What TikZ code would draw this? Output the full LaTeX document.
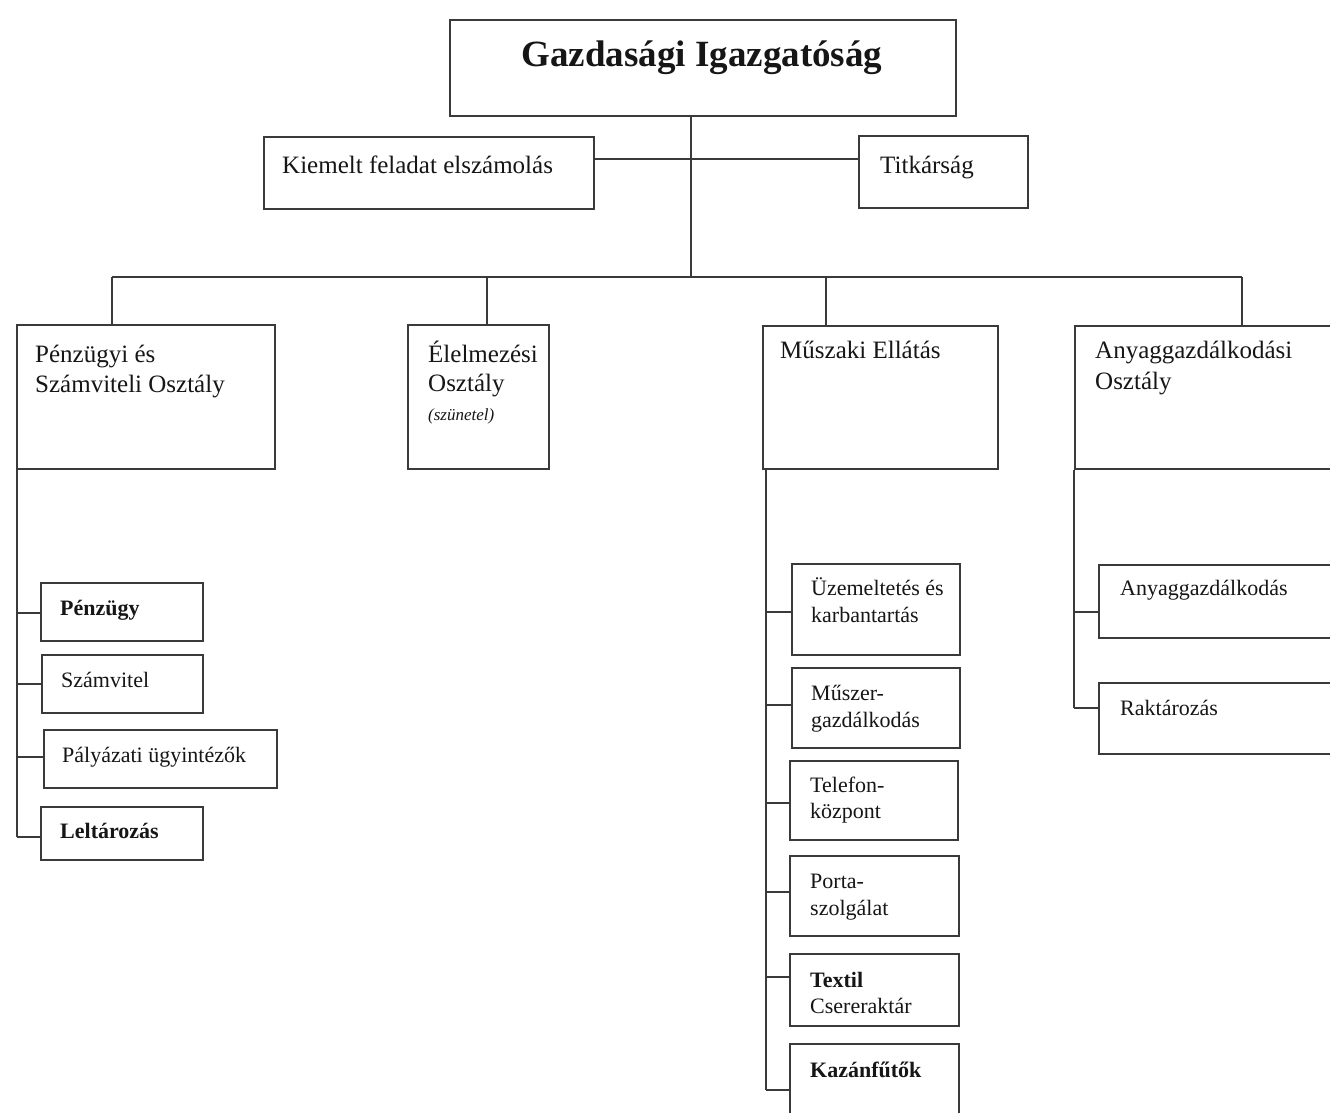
\documentclass[tikz,border=0pt]{standalone}
\usepackage{fontspec}
\setmainfont{Liberation Serif}
\newcommand\mlines[2]{\parbox[t]{400pt}{\raggedright\fontsize{#1}{#2}\selectfont #1}}
\newcommand\twolines[3]{\parbox[t]{300pt}{\fontsize{#1}{#2}\selectfont\raggedright #3}}
\definecolor{linec}{HTML}{3A3A3A}
\definecolor{textc}{HTML}{161616}
\tikzset{
  box/.style={draw=linec, line width=2.4pt, anchor=north west, inner sep=0pt, fill=white},
  conn/.style={draw=linec, line width=2pt},
  toptxt/.style={anchor=base, inner sep=0pt, text=textc, font=\fontsize{37}{44}\selectfont\bfseries},
  midtxt/.style={anchor=base west, inner sep=0pt, text=textc, font=\fontsize{25}{30}\selectfont},
  subtxt/.style={anchor=base west, inner sep=0pt, text=textc, font=\fontsize{22}{27}\selectfont},
  notetxt/.style={anchor=base west, inner sep=0pt, text=textc, font=\fontsize{17}{20}\selectfont\itshape},
}
\begin{document}
\begin{tikzpicture}[x=1pt,y=-1pt]
\useasboundingbox[fill=white] (0,0) rectangle (1330,1112);
\clip (0,0) rectangle (1330,1112);

% ---------- named branch coordinates ----------
\coordinate (tr) at (691,0);
\coordinate (hy) at (0,159);
\coordinate (busL) at (112,277);
\coordinate (busR) at (1242,277);
\coordinate (dE) at (487,277);
\coordinate (dM) at (826,277);
\coordinate (pv) at (17,0);
\coordinate (mv) at (766,0);
\coordinate (av) at (1074,0);

% ---------- level 0 / 1 ----------
\node[box, minimum width=506pt, minimum height=96pt] (top) at (449,19) {};
\node[box, minimum width=330pt, minimum height=72pt] (kiem) at (263,136) {};
\node[box, minimum width=169pt, minimum height=72pt] (tit) at (858,135) {};

% ---------- level 2 ----------
\node[box, minimum width=258pt, minimum height=144pt] (pen) at (16,324) {};
\node[box, minimum width=141pt, minimum height=144pt] (ele) at (407,324) {};
\node[box, minimum width=235pt, minimum height=143pt] (mus) at (762,325) {};
\node[box, minimum width=280pt, minimum height=143pt] (any) at (1074,325) {};

% ---------- level 3 ----------
\node[box, minimum width=162pt, minimum height=58pt] (penzugy) at (40,582) {};
\node[box, minimum width=161pt, minimum height=58pt] (szamv) at (41,654) {};
\node[box, minimum width=233pt, minimum height=58pt] (palya) at (43,729) {};
\node[box, minimum width=162pt, minimum height=53pt] (leltar) at (40,806) {};

\node[box, minimum width=168pt, minimum height=91pt] (uzem) at (791,563) {};
\node[box, minimum width=168pt, minimum height=80pt] (muszer) at (791,667) {};
\node[box, minimum width=168pt, minimum height=79pt] (telef) at (789,760) {};
\node[box, minimum width=169pt, minimum height=80pt] (porta) at (789,855) {};
\node[box, minimum width=169pt, minimum height=72pt] (textil) at (789,953) {};
\node[box, minimum width=169pt, minimum height=82pt] (kazan) at (789,1043) {};

\node[box, minimum width=250pt, minimum height=73pt] (anyg) at (1098,564) {};
\node[box, minimum width=250pt, minimum height=71pt] (rakt) at (1098,682) {};

% ---------- connectors ----------
\draw[conn] (top.south -| tr) -- (tr |- busL);
\draw[conn] (kiem.east |- hy) -- (tit.west |- hy);
\draw[conn] (busL) -- (busR);
\draw[conn] (busL) -- (busL |- pen.north);
\draw[conn] (dE) -- (dE |- ele.north);
\draw[conn] (dM) -- (dM |- mus.north);
\draw[conn] (busR) -- (busR |- any.north);

\draw[conn] (pen.south -| pv) -- (pv |- 0,837);
\draw[conn] (pv |- 0,613) -- (penzugy.west |- 0,613);
\draw[conn] (pv |- 0,684) -- (szamv.west |- 0,684);
\draw[conn] (pv |- 0,757) -- (palya.west |- 0,757);
\draw[conn] (pv |- 0,837) -- (leltar.west |- 0,837);

\draw[conn] (mus.south -| mv) -- (mv |- 0,1090);
\draw[conn] (mv |- 0,612) -- (uzem.west |- 0,612);
\draw[conn] (mv |- 0,705) -- (muszer.west |- 0,705);
\draw[conn] (mv |- 0,803) -- (telef.west |- 0,803);
\draw[conn] (mv |- 0,892) -- (porta.west |- 0,892);
\draw[conn] (mv |- 0,977) -- (textil.west |- 0,977);
\draw[conn] (mv |- 0,1090) -- (kazan.west |- 0,1090);

\draw[conn] (any.south -| av) -- (av |- 0,708);
\draw[conn] (av |- 0,612) -- (anyg.west |- 0,612);
\draw[conn] (av |- 0,708) -- (rakt.west |- 0,708);

% ---------- texts ----------
\node[toptxt] (top-t) at (702,66) {Gazdasági Igazgatóság};
\node[midtxt] (kiem-t) at (282,173) {Kiemelt feladat elszámolás};
\node[midtxt] (tit-t) at (880,173) {Titkárság};

\node[midtxt] (pen-t) at (35,362) {\twolines{25}{30}{Pénzügyi és\\Számviteli Osztály}};
\node[midtxt] (ele-t) at (428,362) {\twolines{25}{29}{Élelmezési\\Osztály}};
\node[notetxt] (ele-n) at (428,420) {(szünetel)};
\node[midtxt] (mus-t) at (780,358) {Műszaki Ellátás};
\node[midtxt] (any-t) at (1095,358) {\twolines{25}{31}{Anyaggazdálkodási\\Osztály}};

\node[subtxt] (penzugy-t) at (60,615) {\textbf{Pénzügy}};
\node[subtxt] (szamv-t) at (61,687) {Számvitel};
\node[subtxt] (palya-t) at (62,762) {Pályázati ügyintézők};
\node[subtxt] (leltar-t) at (60,838) {\textbf{Leltározás}};

\node[subtxt] (uzem-t) at (811,595) {\twolines{22}{27}{Üzemeltetés és\\karbantartás}};
\node[subtxt] (muszer-t) at (811,700) {\twolines{22}{27}{Műszer-\\gazdálkodás}};
\node[subtxt] (telef-t) at (810,792) {\twolines{22}{26}{Telefon-\\központ}};
\node[subtxt] (porta-t) at (810,888) {\twolines{22}{27}{Porta-\\szolgálat}};
\node[subtxt] (textil-t) at (810,987) {\twolines{22}{26}{\textbf{Textil}\\Csereraktár}};
\node[subtxt] (kazan-t) at (810,1077) {\textbf{Kazánfűtők}};

\node[subtxt] (anyg-t) at (1120,595) {Anyaggazdálkodás};
\node[subtxt] (rakt-t) at (1120,715) {Raktározás};
\end{tikzpicture}
\end{document}
